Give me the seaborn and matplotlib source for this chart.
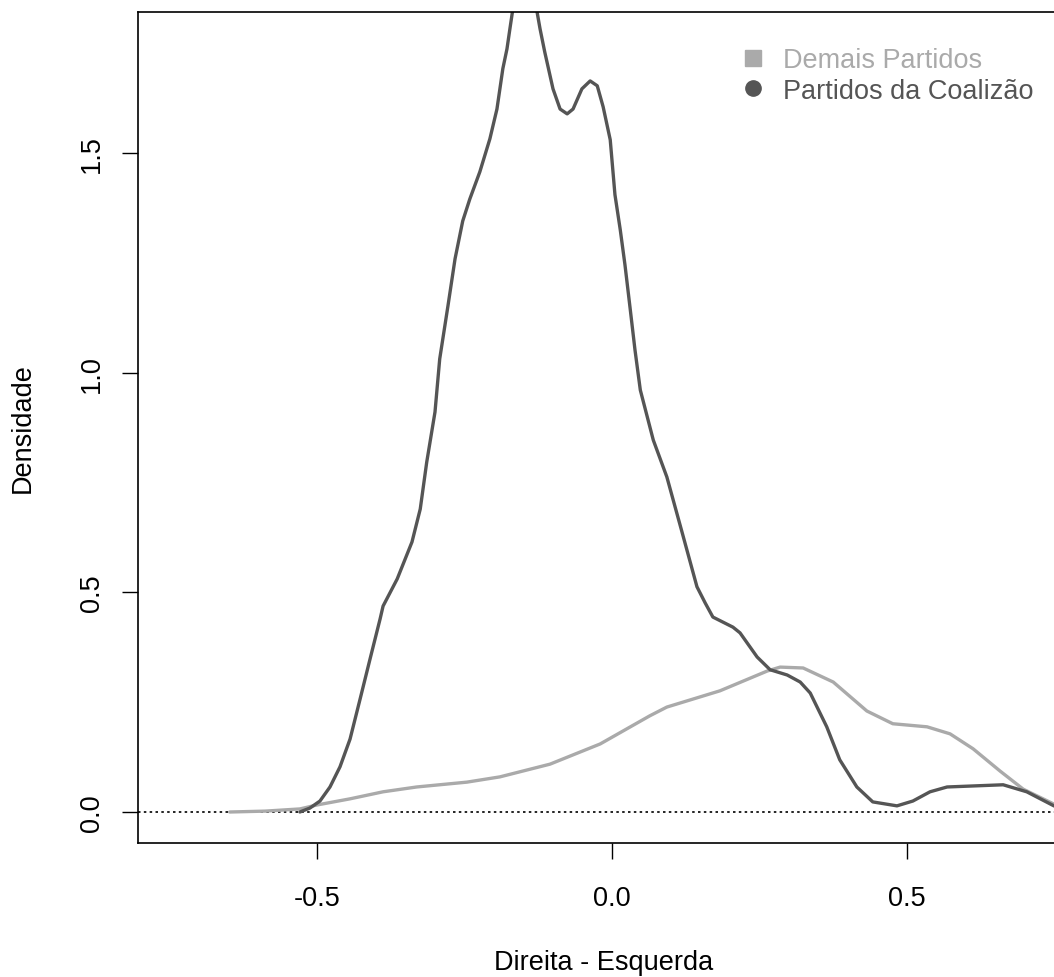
import numpy as np
import pandas as pd
import matplotlib.pyplot as plt
import seaborn as sns
from matplotlib.lines import Line2D

sns.set_style("white")
plt.rcParams['font.family'] = ['Liberation Sans', 'DejaVu Sans']
plt.rcParams['text.color'] = 'black'
plt.rcParams['axes.labelcolor'] = 'black'

# densidade - partidos da coalizao
coal_x = [-0.529, -0.512, -0.495, -0.478, -0.461, -0.444, -0.427, -0.410, -0.393, -0.388,
          -0.364, -0.339, -0.325, -0.314, -0.300, -0.292, -0.278, -0.266, -0.253, -0.241,
          -0.224, -0.207, -0.195, -0.185, -0.178, -0.173, -0.168, -0.159, -0.148, -0.136,
          -0.127, -0.122, -0.114, -0.100, -0.088, -0.076, -0.066, -0.051, -0.037, -0.025,
          -0.015, -0.003, 0.005, 0.014, 0.022, 0.031, 0.039, 0.048, 0.070, 0.093,
          0.119, 0.144, 0.158, 0.171, 0.205, 0.217, 0.246, 0.268, 0.297, 0.319,
          0.336, 0.364, 0.386, 0.415, 0.442, 0.483, 0.510, 0.539, 0.568, 0.663,
          0.703, 0.749, 0.776]
coal_y = [0.000, 0.009, 0.025, 0.057, 0.103, 0.166, 0.257, 0.349, 0.440, 0.469,
          0.531, 0.615, 0.690, 0.797, 0.911, 1.032, 1.153, 1.260, 1.346, 1.396,
          1.458, 1.533, 1.601, 1.693, 1.738, 1.784, 1.829, 1.875, 1.898, 1.875,
          1.822, 1.784, 1.731, 1.647, 1.601, 1.590, 1.601, 1.647, 1.665, 1.654,
          1.606, 1.531, 1.406, 1.326, 1.246, 1.144, 1.052, 0.961, 0.847, 0.763,
          0.636, 0.513, 0.476, 0.444, 0.421, 0.408, 0.353, 0.324, 0.312, 0.296,
          0.271, 0.194, 0.119, 0.057, 0.023, 0.014, 0.025, 0.046, 0.057, 0.062,
          0.046, 0.014, 0.005]

# densidade - demais partidos
demais_x = [-0.648, -0.588, -0.529, -0.500, -0.444, -0.388, -0.331, -0.246, -0.190, -0.105,
            -0.020, 0.064, 0.093, 0.183, 0.263, 0.285, 0.324, 0.375, 0.432, 0.476,
            0.534, 0.573, 0.612, 0.658, 0.697, 0.749, 0.776]
demais_y = [0.000, 0.002, 0.007, 0.016, 0.030, 0.046, 0.057, 0.068, 0.080, 0.109,
            0.155, 0.219, 0.239, 0.276, 0.321, 0.330, 0.328, 0.296, 0.230, 0.201,
            0.194, 0.178, 0.144, 0.093, 0.052, 0.018, 0.007]

grupos = ["Demais Partidos", "Partidos da Coalizão"]
cores = ["#AAAAAA", "#555555"]

df = pd.concat([
    pd.DataFrame({"x": demais_x, "y": demais_y, "grupo": grupos[0]}),
    pd.DataFrame({"x": coal_x, "y": coal_y, "grupo": grupos[1]}),
])

fig = plt.figure(figsize=(10.54, 9.78), dpi=100)
ax = fig.add_axes([138 / 1054, 134 / 978, 932 / 1054, 831 / 978])

ax.axhline(0, color="black", ls=(0, (1.5, 2)), lw=1.2, zorder=1)
sns.lineplot(data=df, x="x", y="y", hue="grupo", palette=dict(zip(grupos, cores)),
             estimator=None, sort=False, lw=2.4, legend=False, ax=ax, zorder=2)

ax.set_xlim(-0.8034, 0.7763)
ax.set_ylim(-0.0706, 1.822)
ax.set_xticks([-0.5, 0.0, 0.5])
ax.set_xticklabels(["-0.5", "0.0", "0.5"])
ax.set_yticks([0.0, 0.5, 1.0, 1.5])
ax.set_yticklabels(["0.0", "0.5", "1.0", "1.5"], rotation=90, va="center")
ax.tick_params(axis="both", direction="out", length=11.5, width=1.0, labelsize=19.5,
               color="black", labelcolor="black", left=True, bottom=True)
ax.tick_params(axis="x", pad=19)
ax.tick_params(axis="y", pad=12.5)
for s in ax.spines.values():
    s.set_color("black")
    s.set_linewidth(1.2)

ax.set_xlabel("Direita - Esquerda", fontsize=19.5, va="center", color="black")
ax.xaxis.set_label_coords(0.5, -(963 - 844) / 831)
ax.set_ylabel("Densidade", fontsize=19.5, va="center", ha="center", color="black")
ax.yaxis.set_label_coords(-(138 - 23) / 932, 0.5)

handles = [Line2D([], [], ls="none", marker="s", color=cores[0], ms=11),
           Line2D([], [], ls="none", marker="o", color=cores[1], ms=11)]
leg = ax.legend(handles, grupos, frameon=False, fontsize=19.5, loc="upper left",
                bbox_to_anchor=(742 / 1054, 1 - 48 / 978), bbox_transform=fig.transFigure,
                borderpad=0, borderaxespad=0, handlelength=0.8, handletextpad=0.72,
                labelspacing=0.17)
for t, c in zip(leg.get_texts(), cores):
    t.set_color(c)

plt.savefig("out.png", dpi=100)
